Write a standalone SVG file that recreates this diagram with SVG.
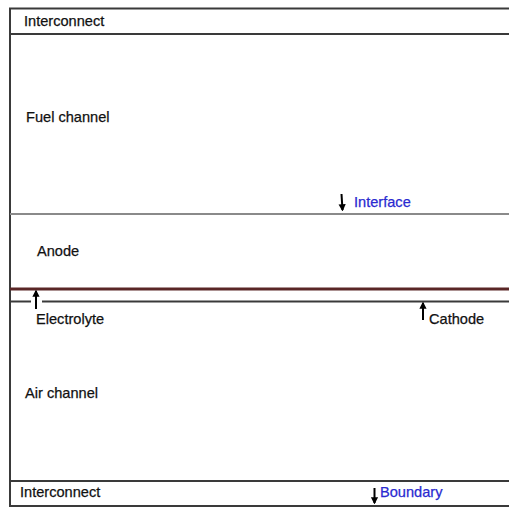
<svg xmlns="http://www.w3.org/2000/svg" width="509" height="511" viewBox="0 0 509 511">
  <defs>
    <style>
      .lbl { font-family: "Liberation Sans", Arial, sans-serif; font-size: 14.6px; fill: #111; stroke: #111; stroke-width: 0.25; }
      .blue { fill: #2a2ad0; stroke: #2a2ad0; }
      .edge { stroke: #3a3a3a; stroke-width: 2; fill: none; }
      .soft { stroke: #8a8a8a; stroke-width: 2; fill: none; }
      .ptr { stroke: #000; stroke-width: 2; fill: none; marker-end: url(#head); }
    </style>
    <marker id="head" viewBox="0 0 10 10" refX="8" refY="5" markerWidth="3.6" markerHeight="4.2" orient="auto" markerUnits="strokeWidth">
      <path d="M0,0 L10,5 L0,10 z" fill="#000"/>
    </marker>
  </defs>
  <rect width="509" height="511" fill="#fff"/>

  <!-- layer boundaries -->
  <g id="connectors">
    <line class="edge" x1="10" y1="8" x2="10" y2="507"/>
    <line class="edge" x1="9" y1="8.5" x2="509" y2="8.5"/>
    <line class="edge" x1="10" y1="34" x2="509" y2="34"/>
    <line class="soft" x1="10" y1="214" x2="509" y2="214"/>
    <line x1="10" y1="289" x2="509" y2="289" stroke="#5a2626" stroke-width="3"/>
    <line class="edge" x1="10" y1="301.5" x2="31" y2="301.5" stroke-width="1.6"/>
    <line class="edge" x1="42" y1="301.5" x2="509" y2="301.5" stroke-width="1.6"/>
    <line class="edge" x1="10" y1="481" x2="509" y2="481"/>
    <line class="edge" x1="9" y1="506" x2="509" y2="506"/>

    <!-- pointers -->
    <line class="ptr" x1="341.5" y1="194" x2="342.5" y2="210"/>
    <line class="ptr" x1="36" y1="309" x2="36" y2="291"/>
    <line class="ptr" x1="423" y1="320" x2="423" y2="303"/>
    <line class="ptr" x1="374.5" y1="488" x2="374.5" y2="503"/>
  </g>

  <g id="top-interconnect"><text class="lbl" x="24" y="26">Interconnect</text></g>
  <g id="fuel-channel"><text class="lbl" x="26" y="122">Fuel channel</text></g>
  <g id="interface"><text class="lbl blue" x="354" y="207">Interface</text></g>
  <g id="anode"><text class="lbl" x="37" y="256">Anode</text></g>
  <g id="electrolyte"><text class="lbl" x="36" y="324">Electrolyte</text></g>
  <g id="cathode"><text class="lbl" x="429" y="324">Cathode</text></g>
  <g id="air-channel"><text class="lbl" x="25" y="398">Air channel</text></g>
  <g id="bottom-interconnect"><text class="lbl" x="20" y="497">Interconnect</text></g>
  <g id="boundary"><text class="lbl blue" x="380" y="497">Boundary</text></g>
</svg>
